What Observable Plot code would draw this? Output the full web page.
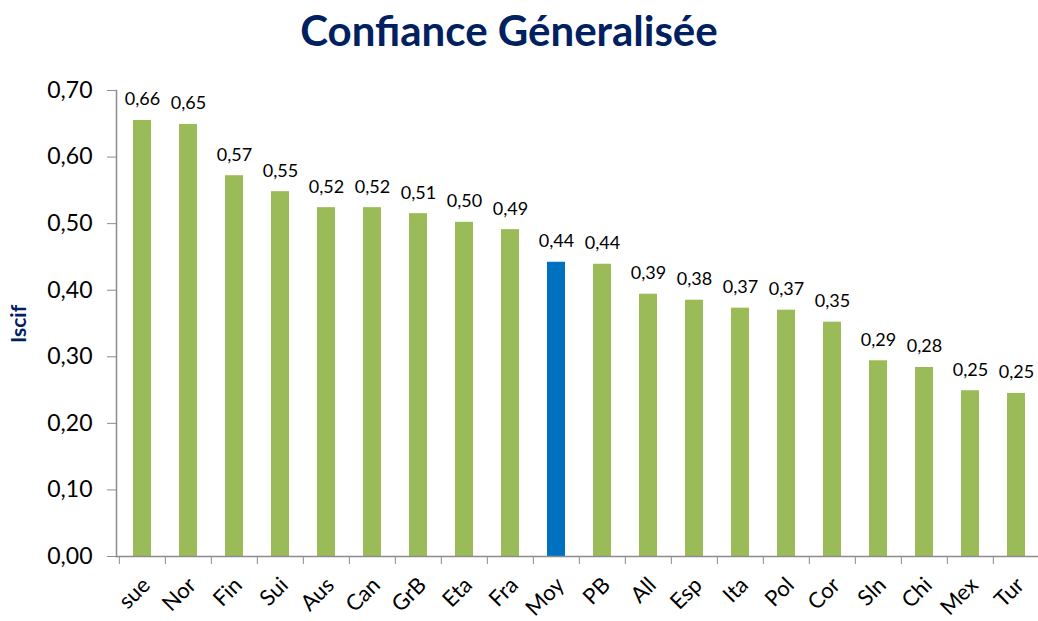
<!DOCTYPE html>
<html>
<head>
<meta charset="utf-8">
<script src="https://cdn.jsdelivr.net/npm/d3@7"></script>
<script src="https://cdn.jsdelivr.net/npm/@observablehq/plot@0.6"></script>
<style>
  body { margin: 0; background: #fff; width: 1038px; height: 621px; overflow: hidden; }
  #title { height: 70px; line-height: 60px; text-align: center; padding-right: 20px; font-family: Lato, "Open Sans", sans-serif; font-weight: 700; font-size: 42px; color: #002060; }
  #chart { position: relative; }
  #ylab { position: absolute; left: 7px; top: 273px; line-height: 22px; transform: rotate(-90deg); transform-origin: left top; font-family: Lato, sans-serif; font-weight: 700; font-size: 21px; color: #002060; }
</style>
</head>
<body>
<div id="title">Confiance Géneralisée</div>
<div id="chart"></div>
<script>
const categories = ["sue","Nor","Fin","Sui","Aus","Can","GrB","Eta","Fra","Moy","PB","All","Esp","Ita","Pol","Cor","Sln","Chi","Mex","Tur"];
const values = [0.655,0.649,0.572,0.548,0.524,0.524,0.515,0.502,0.491,0.442,0.439,0.394,0.385,0.373,0.370,0.352,0.294,0.284,0.249,0.245];
const labels = ["0,66","0,65","0,57","0,55","0,52","0,52","0,51","0,50","0,49","0,44","0,44","0,39","0,38","0,37","0,37","0,35","0,29","0,28","0,25","0,25"];
const yTicks = [0,0.1,0.2,0.3,0.4,0.5,0.6,0.7];
const highlight = "Moy";

const data = categories.map((c, i) => ({cat: c, value: values[i], label: labels[i]}));
const green = "#9BBB59", blue = "#0070C0", axisGray = "#8c8c8c";
const xRange = [116, 1042.3];
const step = (xRange[1] - xRange[0]) / categories.length;

const chart = Plot.plot({
  width: 1038,
  height: 551,
  marginLeft: 116,
  marginRight: 0,
  marginTop: 20,
  marginBottom: 65,
  style: {fontFamily: "Lato, 'Open Sans', sans-serif", color: "#000", background: "#fff"},
  x: {domain: categories, range: xRange, paddingInner: 0.61, paddingOuter: 0.305, align: 0.5},
  y: {domain: [0, 0.7]},
  marks: [
    Plot.barY(data, {x: "cat", y: "value", fill: d => d.cat === highlight ? blue : green}),
    Plot.ruleY([0], {stroke: axisGray, strokeWidth: 1.5}),
    Plot.frame({anchor: "left", stroke: axisGray, strokeWidth: 1.5}),
    Plot.axisY({ticks: yTicks, tickSize: 9, tickPadding: 15, fontSize: 23, stroke: axisGray,
      tickFormat: d => d.toFixed(2).replace(".", ","), label: null}),
    Plot.axisX({tickSize: 8, text: null, dx: -step / 2, stroke: axisGray, label: null}),
    Plot.axisX({tickSize: 0, tickRotate: -45, tickPadding: 20, dx: 4, dy: 5, fontSize: 22, label: null}),
    Plot.text(data, {x: "cat", y: "value", text: "label", dy: -15, lineAnchor: "bottom", fontSize: 18, fill: "#000"})
  ]
});
document.getElementById("chart").appendChild(chart);
const yl = document.createElement("div");
yl.id = "ylab";
yl.textContent = "Iscif";
document.getElementById("chart").appendChild(yl);
</script>
</body>
</html>
